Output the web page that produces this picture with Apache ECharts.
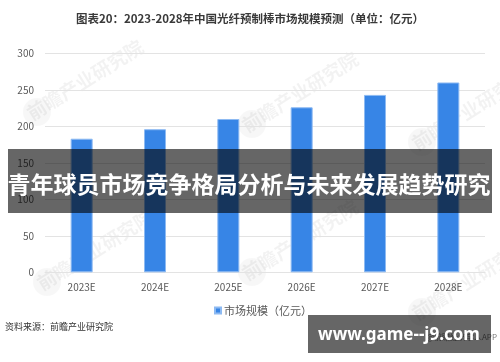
<!DOCTYPE html>
<html>
<head>
<meta charset="utf-8">
<script src="https://cdn.jsdelivr.net/npm/echarts@6/dist/echarts.min.js"></script>
<style>
html,body{margin:0;padding:0;background:#fff;}
#chart{width:500px;height:362px;}
</style>
</head>
<body>
<div id="chart"></div>
<script>
var categories = ['2023E', '2024E', '2025E', '2026E', '2027E', '2028E'];
var marketSize = [183, 196, 210, 226, 243, 260];
var yTicks = [0, 50, 100, 150, 200, 250, 300];
var seriesName = '市场规模（亿元）';
var titleText = '图表20：2023-2028年中国光纤预制棒市场规模预测（单位：亿元）';
var sourceText = '资料来源：前瞻产业研究院';
var bannerText = '青年球员市场竞争格局分析与未来发展趋势研究';
var siteText = 'www.game--j9.com';
var wmText = '前瞻产业研究院';

var FONT = '"Noto Sans CJK SC", "Noto Sans", sans-serif';
var chart = echarts.init(document.getElementById('chart'), null, {renderer: 'canvas'});

var wmPositions = [[85, 80], [300, 92], [470, 110], [95, 250], [300, 240], [470, 280]];
var watermarks = [];
wmPositions.forEach(function (p) {
  watermarks.push({
    type: 'text', x: p[0], y: p[1], rotation: 32 * Math.PI / 180, z: 0,
    style: {text: wmText, fill: 'rgba(0,0,0,0.05)', font: 'bold 19px ' + FONT, textAlign: 'center', textVerticalAlign: 'middle'}
  });
  watermarks.push({
    type: 'circle', shape: {cx: p[0] - 48, cy: p[1] + 32, r: 14}, z: 0,
    style: {fill: 'rgba(0,0,0,0.03)'}
  });
});

var option = {
  animation: false,
  backgroundColor: '#ffffff',
  title: {
    text: titleText, left: 'center', top: 8,
    textStyle: {fontSize: 11.5, fontWeight: 'bold', color: '#3a3a3a', fontFamily: FONT}
  },
  grid: {left: 45, right: 15, top: 53.3, bottom: 89.7, containLabel: false},
  legend: {
    data: [seriesName], left: 209, top: 300,
    icon: 'rect', itemWidth: 6, itemHeight: 6, itemGap: 4,
    textStyle: {fontSize: 11, color: '#595959', fontFamily: FONT, padding: [0, 0, 0, -2]}
  },
  xAxis: {
    type: 'category', data: categories,
    axisLine: {lineStyle: {color: '#e3e3e3', width: 1}},
    axisTick: {show: false},
    axisLabel: {fontSize: 10, color: '#595959', margin: 10, fontFamily: FONT}
  },
  yAxis: {
    type: 'value', min: yTicks[0], max: yTicks[yTicks.length - 1], interval: yTicks[1] - yTicks[0],
    axisLine: {show: false}, axisTick: {show: false},
    splitLine: {lineStyle: {color: '#e3e3e3', width: 1}},
    axisLabel: {fontSize: 10, color: '#595959', margin: 11, fontFamily: FONT}
  },
  series: [{
    name: seriesName, type: 'bar', data: marketSize, barWidth: 22,
    itemStyle: {color: '#3785e6', borderColor: '#8dbaf2', borderWidth: 1}
  }],
  graphic: watermarks.concat([
    {
      type: 'text', left: 5, top: 322, z: 10,
      style: {text: sourceText, fill: '#333333', font: '9px ' + FONT}
    },
    {
      type: 'text', x: 497, y: 337, z: 10,
      style: {text: '@前瞻经济学人APP', fill: '#777777', font: '8px ' + FONT, textAlign: 'right', textVerticalAlign: 'middle'}
    },
    {
      type: 'rect', shape: {x: 8, y: 149, width: 484, height: 64}, z: 100,
      style: {fill: 'rgba(0,0,0,0.6)'}
    },
    {
      type: 'text', x: 249, y: 184, z: 101,
      style: {text: bannerText, fill: '#ffffff', font: 'bold 23px ' + FONT, textAlign: 'center', textVerticalAlign: 'middle'}
    },
    {
      type: 'rect', shape: {x: 308, y: 315, width: 183, height: 38}, z: 100,
      style: {fill: 'rgba(0,0,0,0.6)'}
    },
    {
      type: 'text', x: 399, y: 335, z: 101,
      style: {text: siteText, fill: '#ffffff', font: 'bold 17px "Noto Sans", sans-serif', textAlign: 'center', textVerticalAlign: 'middle'}
    }
  ])
};
chart.setOption(option);
</script>
</body>
</html>
